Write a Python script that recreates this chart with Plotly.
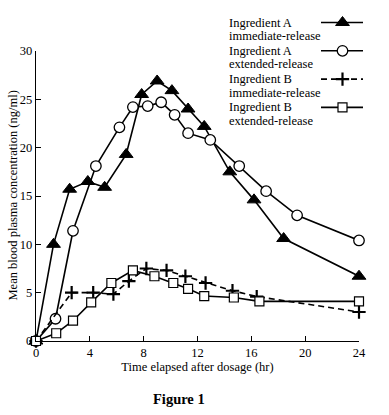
import plotly.graph_objects as go

# ---- data ----
a_ir_t = [0, 1.3, 2.5, 3.85, 5.1, 6.7, 7.85, 9.0, 10.1, 11.3, 12.5, 14.4, 16.2, 18.4, 24]
a_ir_c = [0, 10.0, 15.7, 16.5, 15.9, 19.3, 25.5, 26.9, 25.9, 24.0, 22.2, 17.5, 14.6, 10.6, 6.7]

a_er_t = [0, 1.45, 2.75, 4.45, 6.2, 7.2, 8.3, 9.3, 10.3, 11.3, 12.95, 15.1, 17.1, 19.4, 24]
a_er_c = [0, 2.3, 11.4, 18.1, 22.1, 24.2, 24.3, 24.7, 23.4, 21.5, 20.8, 18.1, 15.5, 13.0, 10.4]

b_ir_t = [0, 2.65, 4.25, 5.75, 6.9, 8.2, 9.7, 11.1, 12.6, 14.6, 16.4, 24]
b_ir_c = [0, 5.0, 5.0, 4.85, 6.2, 7.5, 7.3, 6.7, 6.0, 5.2, 4.6, 3.0]

b_er_t = [0, 1.5, 2.75, 4.1, 5.6, 7.2, 8.8, 10.2, 11.3, 12.5, 14.7, 16.6, 24]
b_er_c = [0, 0.8, 2.1, 4.0, 6.0, 7.3, 6.7, 6.0, 5.4, 4.65, 4.5, 4.1, 4.1]

series_names = [
    ("Ingredient A", "immediate-release"),
    ("Ingredient A", "extended-release"),
    ("Ingredient B", "immediate-release"),
    ("Ingredient B", "extended-release"),
]
x_ticks = [0, 4, 8, 12, 16, 20, 24]
y_ticks = [0, 5, 10, 15, 20, 25, 30]
x_title = "Time elapsed after dosage (hr)"
y_title = "Mean blood plasma concentration (ng/ml)"
caption = "Figure 1"

# ---- layout geometry (pixels) ----
FONT = "Liberation Serif, Times New Roman, serif"
W, H = 389, 415
L, R, T, B = 36, 10, 6, 74
PLOT_RIGHT, PLOT_TOP = 359, 51
paper_w = W - L - R
paper_h = H - T - B
BLACK = "black"
txtfont = dict(family=FONT, size=12.5, color=BLACK)

styles = [
    dict(line=dict(color=BLACK, width=1.6),
         marker=dict(symbol="triangle-up", size=12, color=BLACK, line=dict(color=BLACK, width=1))),
    dict(line=dict(color=BLACK, width=1.6),
         marker=dict(symbol="circle", size=10.5, color="white", line=dict(color=BLACK, width=1.3))),
    dict(line=dict(color=BLACK, width=1.6, dash="6px,4px"),
         marker=dict(symbol="cross-thin", size=9.5, color=BLACK, line=dict(color=BLACK, width=2.2))),
    dict(line=dict(color=BLACK, width=1.6),
         marker=dict(symbol="square", size=9, color="white", line=dict(color=BLACK, width=1.2))),
]

data = [(a_ir_t, a_ir_c), (a_er_t, a_er_c), (b_ir_t, b_ir_c), (b_er_t, b_er_c)]

fig = go.Figure()
for (t, c), st, nm in zip(data, styles, series_names):
    fig.add_trace(go.Scatter(x=t, y=c, mode="lines+markers", name=" ".join(nm),
                             showlegend=False, cliponaxis=False, **st))

# ---- custom legend (symbol to the right of the text), on a pixel-space axis pair ----
leg_text_x = 227
leg_y0 = 22.5
leg_step = 28.3
leg_line_x0, leg_line_x1, leg_mark_x = 321, 363, 342.5
for i, (st, nm) in enumerate(zip(styles, series_names)):
    yy = leg_y0 + leg_step * i
    fig.add_trace(go.Scatter(x=[leg_line_x0, leg_line_x1], y=[yy, yy], mode="lines",
                             line=st["line"], xaxis="x2", yaxis="y2", showlegend=False,
                             hoverinfo="skip"))
    fig.add_trace(go.Scatter(x=[leg_mark_x], y=[yy], mode="markers", marker=st["marker"],
                             xaxis="x2", yaxis="y2", showlegend=False, hoverinfo="skip"))
    for j, txt in enumerate(nm):
        fig.add_annotation(x=leg_text_x, y=yy + 13.5 * j, xref="x2", yref="y2", text=txt,
                           showarrow=False, xanchor="left", yanchor="middle", font=txtfont)

# y-axis title (rotated) and caption
fig.add_annotation(x=(12.5 - L) / paper_w, y=(H - B - (PLOT_TOP + H - B) / 2) / paper_h,
                   xref="paper", yref="paper", text=y_title, textangle=-90,
                   showarrow=False, xanchor="center", yanchor="middle", font=txtfont)
fig.add_annotation(x=(179 - L) / paper_w, y=(H - B - 399) / paper_h, xref="paper", yref="paper",
                   text="<b>" + caption + "</b>", showarrow=False, xanchor="center",
                   yanchor="middle", font=dict(family=FONT, size=14.5, color=BLACK))

fig.update_layout(
    template="none",
    width=W, height=H,
    margin=dict(l=L, r=R, t=T, b=B),
    paper_bgcolor="white", plot_bgcolor="rgba(0,0,0,0)",
    font=txtfont,
    hovermode=False,
    xaxis=dict(domain=[0, (PLOT_RIGHT - L) / paper_w], range=[0, 24], tickvals=x_ticks,
               ticks="inside", ticklen=5, tickwidth=1, tickcolor=BLACK, automargin=False,
               showline=True, linecolor=BLACK, linewidth=1.3, showgrid=False, zeroline=False,
               title=dict(text=x_title, standoff=2, font=txtfont),
               tickfont=txtfont),
    yaxis=dict(domain=[0, (H - B - PLOT_TOP) / paper_h], range=[0, 30], tickvals=y_ticks,
               ticks="inside", ticklen=5, tickwidth=1, tickcolor=BLACK, automargin=False,
               showline=True, linecolor=BLACK, linewidth=1.3, showgrid=False, zeroline=False,
               tickfont=txtfont),
    xaxis2=dict(domain=[0, 1], range=[L, W - R], visible=False, anchor="y2",
                automargin=False, fixedrange=True, showgrid=False, zeroline=False),
    yaxis2=dict(domain=[0, 1], range=[H - B, T], visible=False, anchor="x2",
                automargin=False, fixedrange=True, showgrid=False, zeroline=False),
)

fig.write_html("out.html", config={"displayModeBar": False},
               post_script="document.body.style.margin='0px';")
